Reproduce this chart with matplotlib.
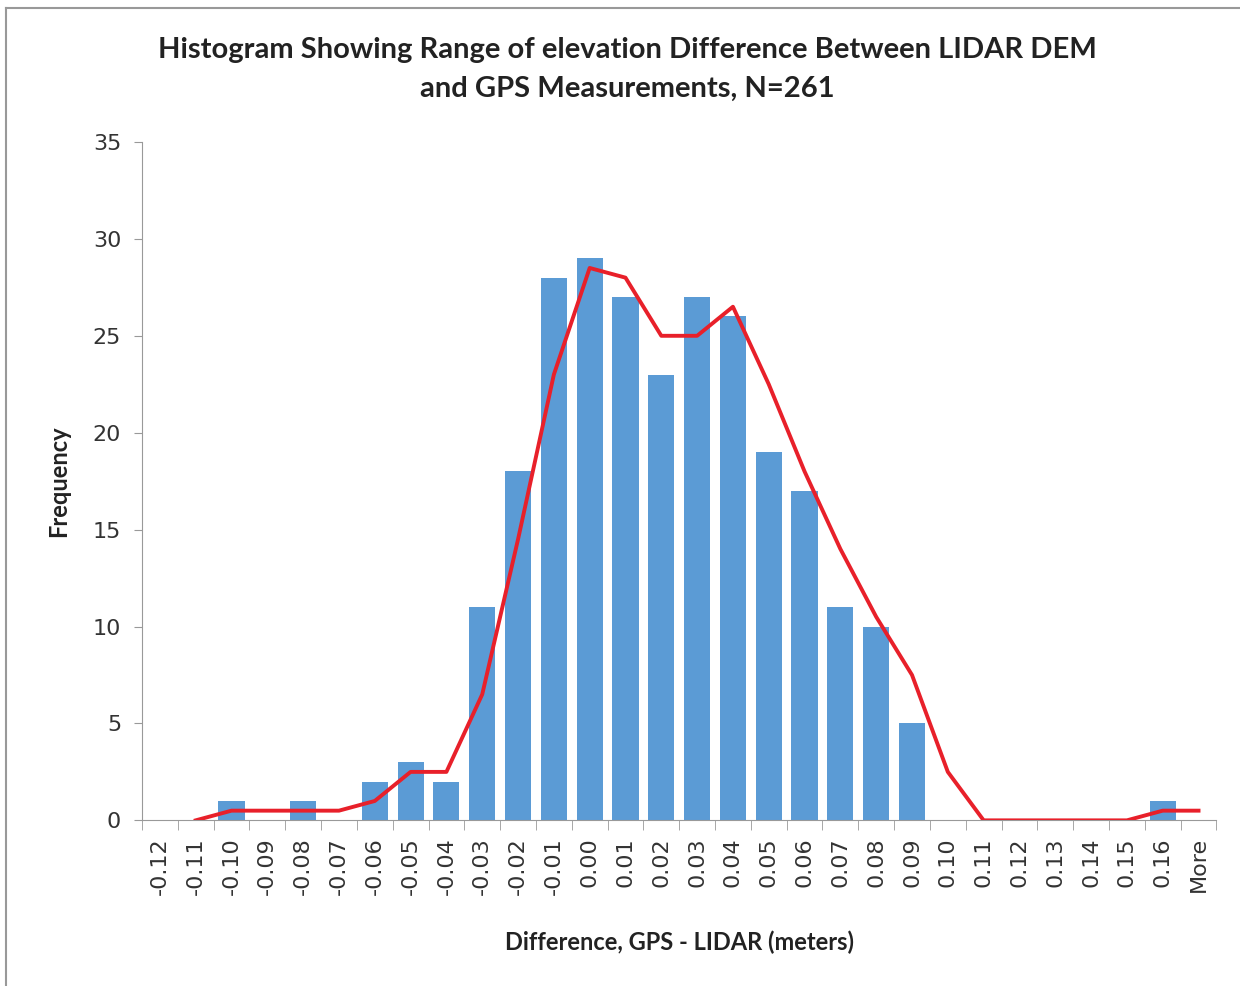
import numpy as np
import matplotlib.pyplot as plt
from matplotlib.lines import Line2D

# bin labels and counts
bins = ['-0.12', '-0.11', '-0.10', '-0.09', '-0.08', '-0.07', '-0.06', '-0.05',
        '-0.04', '-0.03', '-0.02', '-0.01', '0.00', '0.01', '0.02', '0.03',
        '0.04', '0.05', '0.06', '0.07', '0.08', '0.09', '0.10', '0.11', '0.12',
        '0.13', '0.14', '0.15', '0.16', 'More']
freq = [0, 0, 1, 0, 1, 0, 2, 3, 2, 11, 18, 28, 29, 27, 23, 27, 26, 19, 17, 11,
        10, 5, 0, 0, 0, 0, 0, 0, 1, 0]
# 2-period moving average trendline
trend = [np.nan, 0, 0.5, 0.5, 0.5, 0.5, 1, 2.5, 2.5, 6.5, 14.5, 23, 28.5, 28,
         25, 25, 26.5, 22.5, 18, 14, 10.5, 7.5, 2.5, 0, 0, 0, 0, 0, 0.5, 0.5]

fig = plt.figure(figsize=(12.4, 9.86), dpi=100)
ax = fig.add_axes([0.1145, 0.168, 0.8665, 0.688])

x = np.arange(len(bins))
ax.bar(x, freq, width=0.73, color='#5B9BD5', zorder=2)
ax.plot(x, trend, color='#E8202A', lw=2.8, zorder=3)

ax.set_xlim(-0.5, len(bins) - 0.5)
ax.set_ylim(0, 35)
ax.set_yticks(range(0, 36, 5))
ax.set_xticks(x)
ax.set_xticklabels(bins, rotation=90, fontsize=16, color='#333333')
ax.set_xticks(np.arange(-0.5, len(bins), 1), minor=True)
ax.tick_params(axis='x', which='major', length=0, pad=12)
ax.tick_params(axis='x', which='minor', length=7, color='#999999')
ax.tick_params(axis='y', length=6, color='#999999', labelsize=16, pad=9,
               labelcolor='#333333')

for s in ['top', 'right']:
    ax.spines[s].set_visible(False)
ax.spines['left'].set_color('#999999')
ax.spines['bottom'].set_color('#999999')

fig.text(0.506, 0.949, 'Histogram Showing Range of elevation Difference Between LIDAR DEM',
         ha='center', va='center', fontsize=21, fontweight='bold', family='Lato',
         color='#222222')
fig.text(0.506, 0.910, 'and GPS Measurements, N=261',
         ha='center', va='center', fontsize=21, fontweight='bold', family='Lato',
         color='#222222')
ax.set_ylabel('Frequency', fontsize=17, fontweight='bold', family='Lato',
              color='#222222', labelpad=16)
ax.set_xlabel('Difference, GPS - LIDAR (meters)', fontsize=17, fontweight='bold',
              family='Lato', color='#222222', labelpad=26)

# scanned page frame
fig.add_artist(Line2D([0.005, 0.005], [0, 0.992], color='#999999', lw=1.5))
fig.add_artist(Line2D([0.005, 1], [0.992, 0.992], color='#999999', lw=1.5))

fig.savefig('out.png', dpi=100)
